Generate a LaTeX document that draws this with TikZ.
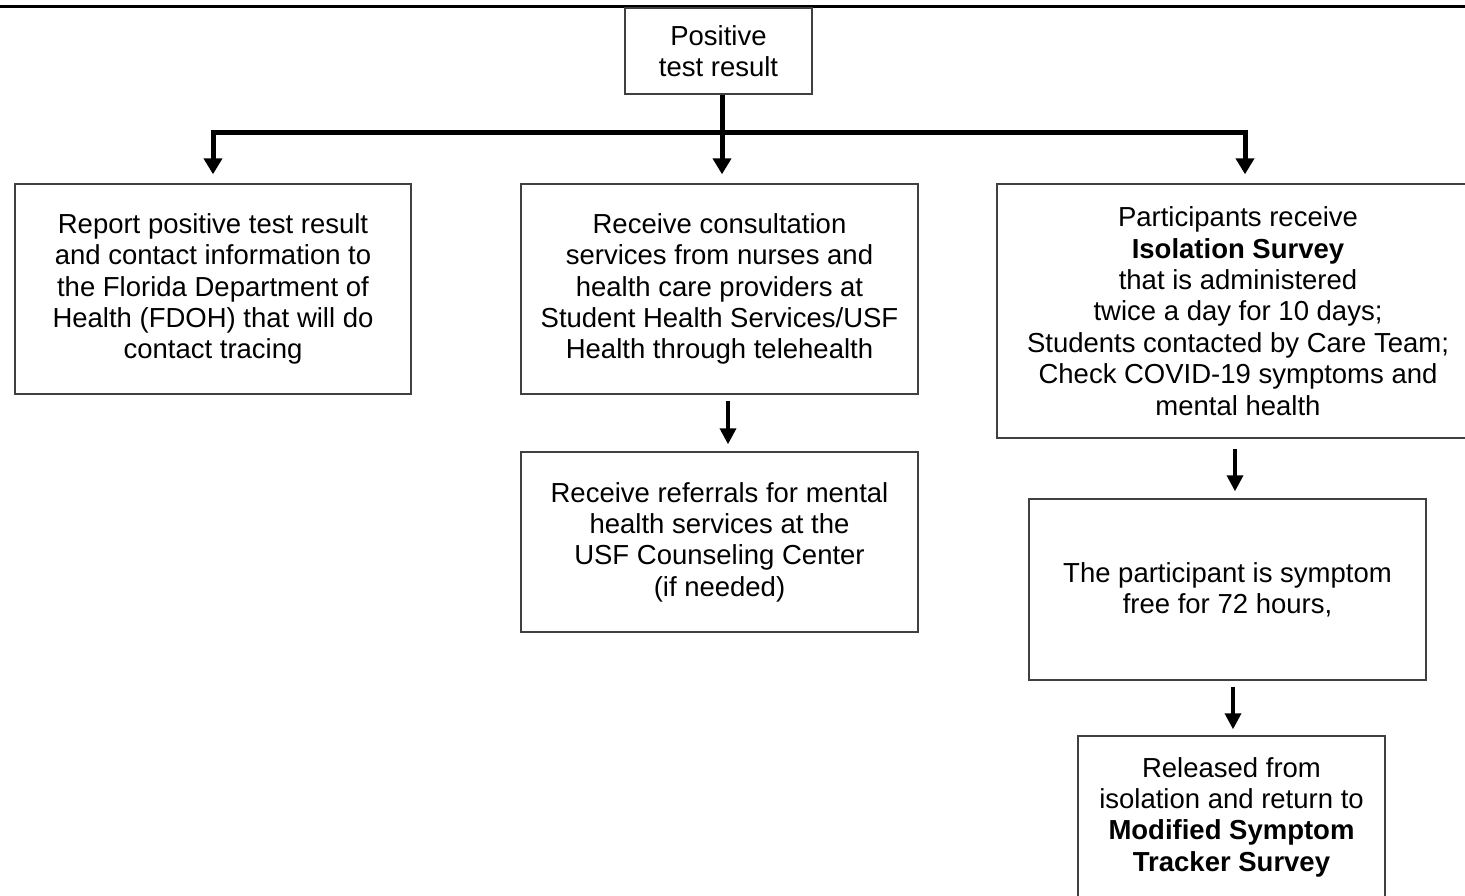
\documentclass[tikz,border=0pt]{standalone}
\usepackage{fontspec}
\setmainfont{Liberation Sans}
\usetikzlibrary{arrows.meta}
\begin{document}
\begin{tikzpicture}[x=1pt,y=-1pt,
  box/.style={draw=black!75, line width=1.4pt, align=center, inner sep=0pt,
    font=\fontsize{27.5}{31.4}\selectfont, text=black},
  bus/.style={line width=5pt, line join=miter, -{Triangle[width=18pt,length=16pt]}},
  smallarrow/.style={line width=3.5pt, -{Triangle[width=16pt,length=16pt]}}]
\useasboundingbox (0,0) rectangle (1465,896);
\draw[line width=2.5pt] (0,6.5) -- (1465,6.5);

\node[box, minimum width=187pt, minimum height=86pt] (pos) at (718.5,51) {Positive\\test result};
\node[box, minimum width=396pt, minimum height=210pt] (b1) at (213,289)
  {Report positive test result\\and contact information to\\the Florida Department of\\Health (FDOH) that will do\\contact tracing};
\node[box, minimum width=397pt, minimum height=210pt] (b2) at (719.5,289)
  {Receive consultation\\services from nurses and\\health care providers at\\Student Health Services/USF\\Health through telehealth};
\node[box, minimum width=482pt, minimum height=254pt] (b3) at (1238,311)
  {Participants receive\\\textbf{Isolation Survey}\\that is administered\\twice a day for 10 days;\\Students contacted by Care Team;\\Check COVID-19 symptoms and\\mental health};
\node[box, minimum width=397pt, minimum height=180pt] (b4) at (719.5,542)
  {Receive referrals for mental\\health services at the\\USF Counseling Center\\(if needed)};
\node[box, minimum width=397pt, minimum height=181pt] (b5) at (1227.5,589.5)
  {The participant is symptom\\free for 72 hours,};
\node[box, minimum width=307pt, minimum height=162pt] (b6) at (1231.5,817)
  {Released from\\isolation and return to\\\textbf{Modified Symptom}\\\textbf{Tracker Survey}};

\coordinate (jl) at (213,133);
\coordinate (jr) at (1245,133);
\draw[bus] ([xshift=3.5pt]pos.south) -- ([xshift=2.5pt,yshift=9pt]b2.north);
\draw[bus, {Triangle[width=18pt,length=16pt]}-{Triangle[width=18pt,length=16pt]}]
  ([yshift=9pt]b1.north) -- (jl) -- (jr) -- ([xshift=7pt,yshift=9pt]b3.north);

\draw[smallarrow] ([xshift=8.5pt,yshift=-6pt]b2.south) -- ([xshift=8.5pt,yshift=7pt]b4.north);
\draw[smallarrow] ([xshift=-3pt,yshift=-10pt]b3.south) -- ([xshift=7.5pt,yshift=7pt]b5.north);
\draw[smallarrow] ([xshift=5.5pt,yshift=-6pt]b5.south) -- ([xshift=1.5pt,yshift=6pt]b6.north);
\end{tikzpicture}
\end{document}
